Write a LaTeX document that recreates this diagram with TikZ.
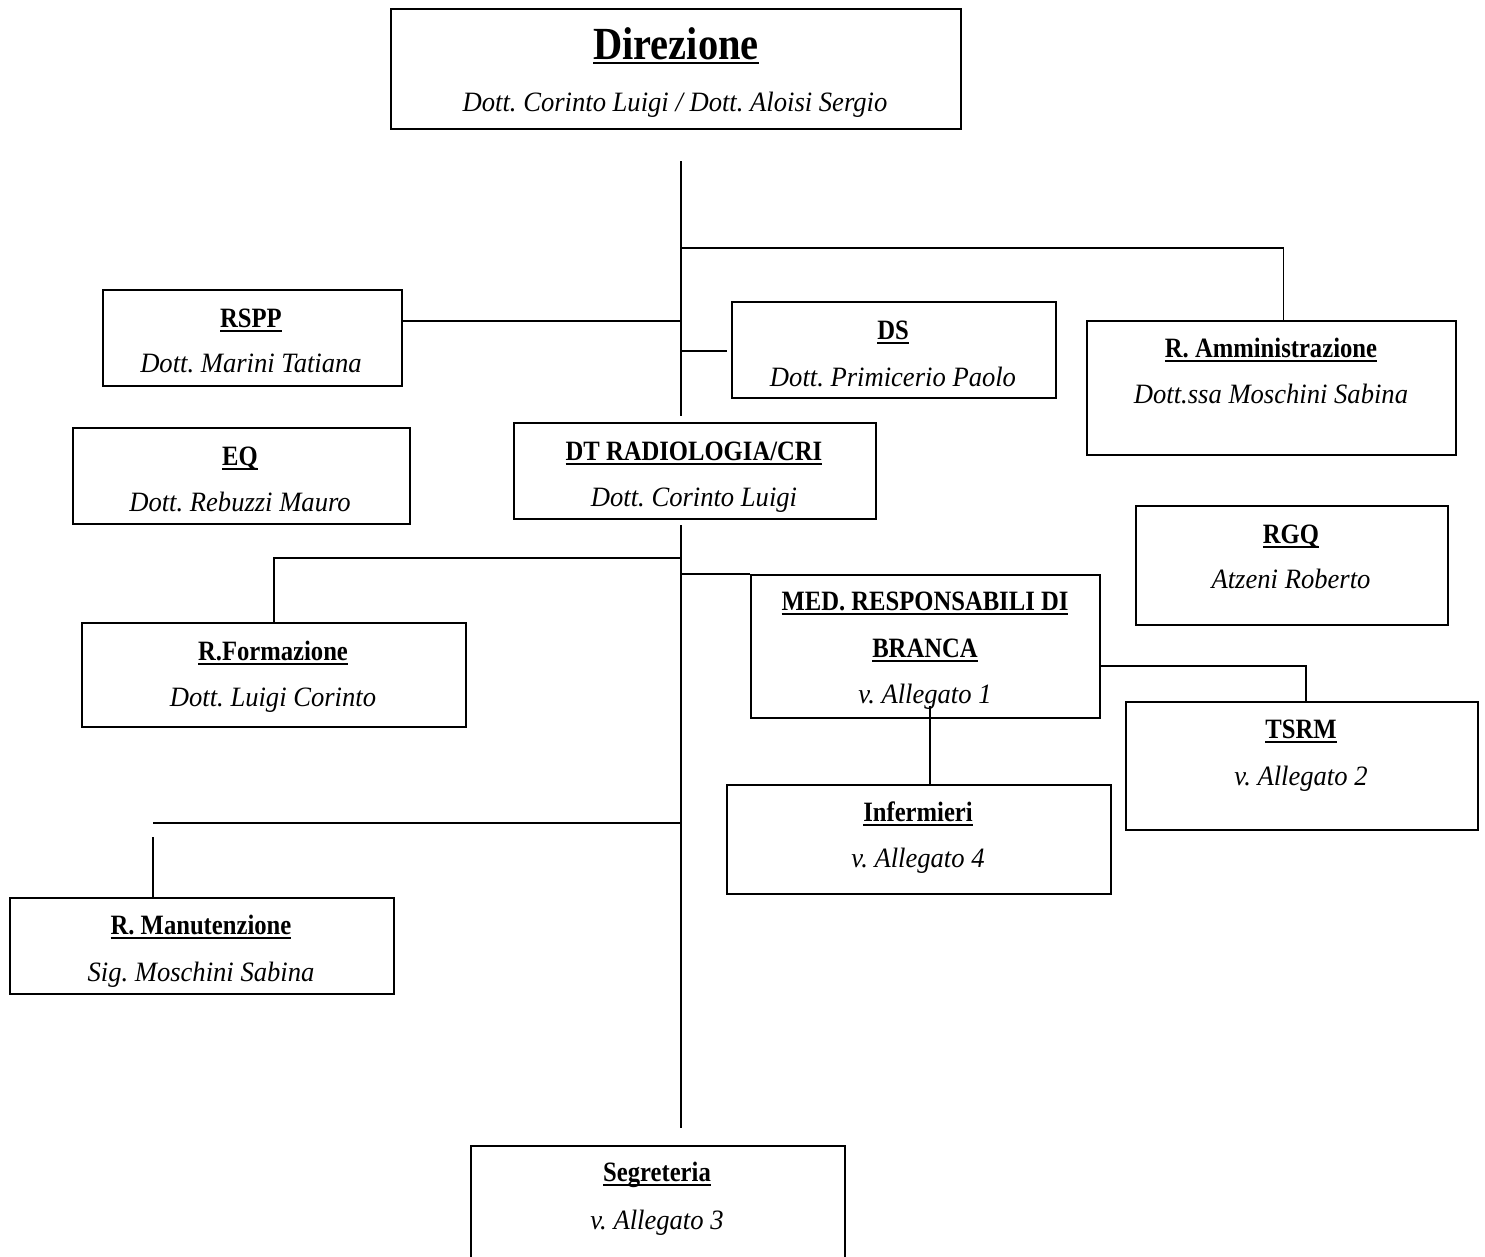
\documentclass[tikz,border=0pt]{standalone}
\usepackage{fontspec}
\setmainfont{Liberation Serif}[BoldFeatures={FakeStretch=0.88}, ItalicFeatures={FakeStretch=0.95}]
\usetikzlibrary{positioning}

\frenchspacing
\newcommand{\sottolineato}[1]{\setbox0\hbox{#1}\leavevmode\rlap{\raisebox{-4.5pt}{\rule{\wd0}{1.6pt}}}\box0}

\tikzset{
    ufficio/.style={draw, line width=1.6pt, inner sep=0pt, anchor=north west},
    titolo/.style={anchor=base, inner sep=0pt, font=\fontsize{28}{32}\selectfont\bfseries},
    nome/.style={anchor=base, inner sep=0pt, font=\fontsize{28}{32}\selectfont\itshape},
    linea/.style={line width=1.6pt}
}

\begin{document}
\begin{tikzpicture}[x=1pt, y=-1pt]
    \useasboundingbox (0,0) rectangle (1485,1256);

    %%% Boxes
    \node[ufficio, minimum width=570, minimum height=120] (dir)   at (390,8)    {};
    \node[ufficio, minimum width=299, minimum height=96]  (rspp)  at (102,289)  {};
    \node[ufficio, minimum width=324, minimum height=96]  (ds)    at (731,301)  {};
    \node[ufficio, minimum width=369, minimum height=134] (amm)   at (1086,320) {};
    \node[ufficio, minimum width=337, minimum height=96]  (eq)    at (72,427)   {};
    \node[ufficio, minimum width=362, minimum height=96]  (dt)    at (513,422)  {};
    \node[ufficio, minimum width=312, minimum height=119] (rgq)   at (1135,505) {};
    \node[ufficio, minimum width=384, minimum height=104] (rform) at (81,622)   {};
    \node[ufficio, minimum width=349, minimum height=143] (med)   at (750,574)  {};
    \node[ufficio, minimum width=352, minimum height=128] (tsrm)  at (1125,701) {};
    \node[ufficio, minimum width=384, minimum height=109] (inf)   at (726,784)  {};
    \node[ufficio, minimum width=384, minimum height=96]  (rman)  at (9,897)    {};
    \node[ufficio, minimum width=374, minimum height=160] (segr)  at (470,1145) {};

    %%% Labels
    \node[titolo, font=\fontsize{46}{50}\selectfont\bfseries] (dir-t) at (676,59) {\sottolineato{Direzione}};
    \node[nome] (dir-n) at (675,111) {Dott. Corinto Luigi / Dott. Aloisi Sergio};

    \node[titolo] (rspp-t) at (251,327) {\sottolineato{RSPP}};
    \node[nome]   (rspp-n) at (251,372) {Dott. Marini Tatiana};

    \node[titolo] (ds-t) at (893,339) {\sottolineato{DS}};
    \node[nome]   (ds-n) at (893,386) {Dott. Primicerio Paolo};

    \node[titolo] (amm-t) at (1271,357) {\sottolineato{R. Amministrazione}};
    \node[nome]   (amm-n) at (1271,403) {Dott.ssa Moschini Sabina};

    \node[titolo] (eq-t) at (240,465) {\sottolineato{EQ}};
    \node[nome]   (eq-n) at (240,511) {Dott. Rebuzzi Mauro};

    \node[titolo] (dt-t) at (694,460) {\sottolineato{DT RADIOLOGIA/CRI}};
    \node[nome]   (dt-n) at (694,506) {Dott. Corinto Luigi};

    \node[titolo] (rgq-t) at (1291,543) {\sottolineato{RGQ}};
    \node[nome]   (rgq-n) at (1291,588) {Atzeni Roberto};

    \node[titolo] (rform-t) at (273,660) {\sottolineato{R.Formazione}};
    \node[nome]   (rform-n) at (273,706) {Dott. Luigi Corinto};

    \node[titolo] (med-t1) at (925,610) {\sottolineato{MED. RESPONSABILI DI}};
    \node[titolo] (med-t2) at (925,657) {\sottolineato{BRANCA}};
    \node[nome]   (med-n)  at (925,703) {v. Allegato 1};

    \node[titolo] (tsrm-t) at (1301,738) {\sottolineato{TSRM}};
    \node[nome]   (tsrm-n) at (1301,785) {v. Allegato 2};

    \node[titolo] (inf-t) at (918,821) {\sottolineato{Infermieri}};
    \node[nome]   (inf-n) at (918,867) {v. Allegato 4};

    \node[titolo] (rman-t) at (201,934) {\sottolineato{R. Manutenzione}};
    \node[nome]   (rman-n) at (201,981) {Sig. Moschini Sabina};

    \node[titolo] (segr-t) at (657,1181) {\sottolineato{Segreteria}};
    \node[nome]   (segr-n) at (657,1229) {v. Allegato 3};

    %%% Junctions
    \coordinate (dir-giu) at (681,161);
    \coordinate (dir-fine) at (681,416);
    \coordinate (j-amm)  at (681,248);
    \coordinate (j-rspp) at (681,321);
    \coordinate (j-ds)   at (681,351);
    \coordinate (dt-giu) at (681,525);
    \coordinate (j-form) at (681,558);
    \coordinate (j-med)  at (681,574);
    \coordinate (j-tsrm) at (1099,666);
    \coordinate (med-giu) at (930,706);
    \coordinate (j-man)  at (681,823);
    \coordinate (man-sx) at (153,823);
    \coordinate (man-su) at (153,837);
    \coordinate (segr-su) at (681,1128);

    %%% Connectors
    \draw[linea] (dir-giu) -- (dir-fine);
    \draw[linea] (j-amm) -| ([xshift=12pt]amm.north);
    \draw[linea] (j-rspp) -- (rspp.east |- j-rspp);
    \draw[linea] (j-ds) -- ([xshift=-4pt]ds.west |- j-ds);

    \draw[linea] (dt-giu) -- (segr-su);
    \draw[linea] (j-form) -| (rform.north);
    \draw[linea] (j-med) -- (med.north west);
    \draw[linea] (j-tsrm) -| ([xshift=4pt]tsrm.north);
    \draw[linea] (med-giu) -- (med-giu |- inf.north);
    \draw[linea] (j-man) -- (man-sx);
    \draw[linea] (man-su) -- (man-su |- rman.north);
\end{tikzpicture}
\end{document}
